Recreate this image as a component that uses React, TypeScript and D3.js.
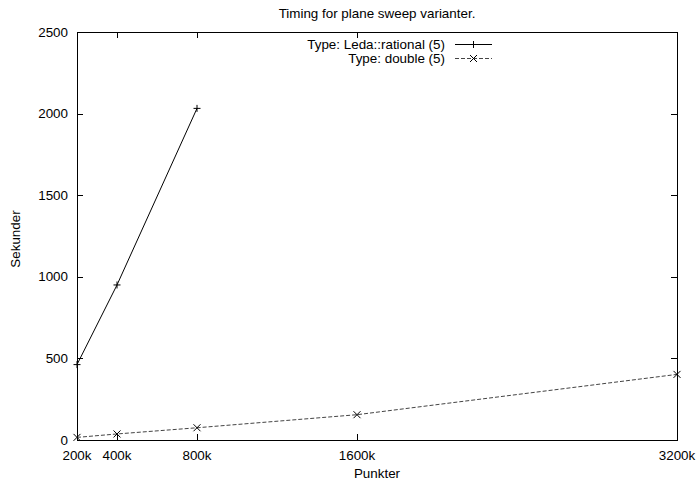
import React from 'react';
import * as d3 from 'd3';

// values
const pointsK = [200, 400, 800, 1600, 3200];
const xTickLabels = ['200k', '400k', '800k', '1600k', '3200k'];
const ledaSeconds = [462, 950, 2032];
const doubleSeconds = [16, 37, 75, 155, 402];
const yTicks = [0, 500, 1000, 1500, 2000, 2500];
const seriesNames = ['Type: Leda::rational (5)', 'Type: double (5)'];

const W = 697, H = 481;
const margin = { top: 32, right: 20, bottom: 41, left: 77 };
const font = '"Liberation Sans", Arial, Helvetica, sans-serif';

export default function App() {
    const x = d3.scaleLinear().domain([200, 3200]).range([margin.left, W - margin.right]);
    const y = d3.scaleLinear().domain([0, 2500]).range([H - margin.bottom, margin.top]);
    const line = d3.line<[number, number]>()
        .x(d => x(d[0]))
        .y(d => y(d[1]));

    const leda: [number, number][] = ledaSeconds.map((v, i) => [pointsK[i], v]);
    const dbl: [number, number][] = doubleSeconds.map((v, i) => [pointsK[i], v]);

    const x0 = x.range()[0], x1 = x.range()[1];
    const y0 = y.range()[0], y1 = y.range()[1];
    const tl = 6;
    const m = 3.5; // marker half size
    const dash = '4,2';
    const dashColor = '#444';

    const plus = (cx: number, cy: number, k: string) => (
        <path key={k} d={`M${cx - m},${cy}H${cx + m}M${cx},${cy - m}V${cy + m}`} stroke="#000" />
    );
    const cross = (cx: number, cy: number, k: string) => (
        <path key={k} d={`M${cx - m},${cy - m}L${cx + m},${cy + m}M${cx - m},${cy + m}L${cx + m},${cy - m}`} stroke="#000" />
    );

    const legX = 445, legLine0 = 455, legLine1 = 492;
    const legY = [44, 58];

    return (
        <svg width={W} height={H} style={{ position: 'absolute', left: 0, top: 0, background: '#fff' }}
            fontFamily={font} fontSize={13.4}>
            <rect width={W} height={H} fill="#fff" />
            <text x={(x0 + x1) / 2} y={17.5} textAnchor="middle">Timing for plane sweep varianter.</text>

            {/* y ticks + mirrored ticks */}
            {yTicks.map(t => (
                <g key={'y' + t}>
                    <line x1={x0} x2={x0 + tl} y1={Math.round(y(t)) + 0.5} y2={Math.round(y(t)) + 0.5} stroke="#000" />
                    <line x1={x1} x2={x1 - tl} y1={Math.round(y(t)) + 0.5} y2={Math.round(y(t)) + 0.5} stroke="#000" />
                    <text x={x0 - 9} y={y(t)} dy="0.35em" textAnchor="end">{t}</text>
                </g>
            ))}

            {/* x ticks + mirrored ticks */}
            {pointsK.map((p, i) => (
                <g key={'x' + p}>
                    <line x1={Math.round(x(p)) + 0.5} x2={Math.round(x(p)) + 0.5} y1={y0} y2={y0 - tl} stroke="#000" />
                    <line x1={Math.round(x(p)) + 0.5} x2={Math.round(x(p)) + 0.5} y1={y1} y2={y1 + tl} stroke="#000" />
                    <text x={x(p)} y={y0 + 15} dy="0.35em" textAnchor="middle">{xTickLabels[i]}</text>
                </g>
            ))}

            <rect x={x0 + 0.5} y={y1 + 0.5} width={x1 - x0} height={y0 - y1} fill="none" stroke="#000" />

            <text x={(x0 + x1) / 2} y={473} dy="0.35em" textAnchor="middle">Punkter</text>
            <text transform={`translate(15,${(y0 + y1) / 2 + 3}) rotate(-90)`} dy="0.35em" textAnchor="middle">Sekunder</text>

            {/* series */}
            <path d={line(leda) || ''} fill="none" stroke="#000" />
            {leda.map((d, i) => plus(x(d[0]), y(d[1]), 'lp' + i))}
            <path d={line(dbl) || ''} fill="none" stroke={dashColor} strokeDasharray={dash} />
            {dbl.map((d, i) => cross(x(d[0]), y(d[1]), 'dp' + i))}

            {/* legend */}
            <text x={legX} y={legY[0]} dy="0.35em" textAnchor="end">{seriesNames[0]}</text>
            <line x1={legLine0} x2={legLine1} y1={legY[0] + 0.5} y2={legY[0] + 0.5} stroke="#000" />
            {plus((legLine0 + legLine1) / 2, legY[0] + 0.5, 'lg0')}
            <text x={legX} y={legY[1]} dy="0.35em" textAnchor="end">{seriesNames[1]}</text>
            <line x1={legLine0} x2={legLine1} y1={legY[1] + 0.5} y2={legY[1] + 0.5} stroke={dashColor} strokeDasharray={dash} />
            {cross((legLine0 + legLine1) / 2, legY[1] + 0.5, 'lg1')}
        </svg>
    );
}
